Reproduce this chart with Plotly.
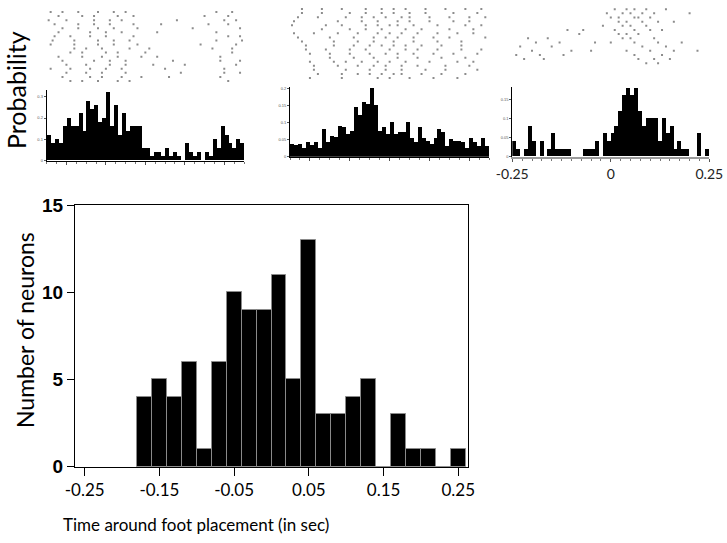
import plotly.graph_objects as go

W, H = 727, 543

# ---------------- data ----------------
main_bin_centers = [-0.17, -0.15, -0.13, -0.11, -0.09, -0.07, -0.05, -0.03, -0.01, 0.01, 0.03,
                    0.05, 0.07, 0.09, 0.11, 0.13, 0.15, 0.17, 0.19, 0.21, 0.23, 0.25]
main_counts = [4, 5, 4, 6, 1, 6, 10, 9, 9, 11, 5, 13, 3, 3, 4, 5, 0, 3, 1, 1, 0, 1]
main_xticks = [-0.25, -0.15, -0.05, 0.05, 0.15, 0.25]
main_xticklabels = ["-0.25", "-0.15", "-0.05", "0.05", "0.15", "0.25"]
main_yticks = [0, 5, 10, 15]
foot_placement_time = [0.0]

small_bin_edges_start = -0.25
small_bin_width = 0.01
small_bin_centers = [round(small_bin_edges_start + small_bin_width * (i + 0.5), 3) for i in range(50)]

prob_neuron1 = [0.12, 0.08, 0.10, 0.08, 0.16, 0.20, 0.16, 0.16, 0.22, 0.14,
                0.28, 0.24, 0.26, 0.18, 0.20, 0.32, 0.16, 0.26, 0.12, 0.22,
                0.14, 0.16, 0.16, 0.16, 0.06, 0.06, 0.02, 0.04, 0.04, 0.02,
                0.06, 0.02, 0.04, 0.02, 0.00, 0.08, 0.04, 0.02, 0.04, 0.00,
                0.04, 0.02, 0.10, 0.06, 0.16, 0.12, 0.08, 0.06, 0.10, 0.08]
prob_neuron2 = [0.036, 0.033, 0.036, 0.026, 0.042, 0.033, 0.042, 0.026, 0.081, 0.042,
                0.062, 0.057, 0.091, 0.087, 0.067, 0.076, 0.145, 0.122, 0.161, 0.155,
                0.201, 0.151, 0.076, 0.087, 0.067, 0.101, 0.067, 0.072, 0.072, 0.101,
                0.056, 0.042, 0.086, 0.056, 0.046, 0.036, 0.056, 0.081, 0.072, 0.032,
                0.052, 0.046, 0.046, 0.042, 0.026, 0.056, 0.042, 0.032, 0.056, 0.032]
prob_neuron3 = [0.04, 0.02, 0.00, 0.02, 0.08, 0.04, 0.00, 0.04, 0.00, 0.02,
                0.06, 0.02, 0.02, 0.02, 0.02, 0.00, 0.00, 0.00, 0.02, 0.02,
                0.02, 0.04, 0.00, 0.06, 0.04, 0.06, 0.08, 0.12, 0.16, 0.18,
                0.16, 0.18, 0.12, 0.08, 0.10, 0.10, 0.10, 0.04, 0.10, 0.06,
                0.08, 0.02, 0.04, 0.02, 0.02, 0.00, 0.00, 0.06, 0.00, 0.02]

prob_yticks1 = [0, 0.1, 0.2, 0.3]
prob_yticks2 = [0, 0.05, 0.1, 0.15, 0.2]
prob_yticks3 = [0, 0.05, 0.1, 0.15]
panel3_xticks = [-0.25, 0, 0.25]
panel3_xticklabels = ["-0.25", "0", "0.25"]

# spike rasters: one list of spike times per trial (row)
raster_neuron1 = [
    [-0.24, -0.21, -0.17, -0.12, -0.08, -0.05, 0.18, 0.22],
    [-0.22, -0.16, -0.13, -0.07, -0.03, 0.15, 0.21],
    [-0.245, -0.20, -0.13, -0.09, -0.06, 0.08, 0.20, 0.23],
    [-0.23, -0.17, -0.13, -0.09, -0.03, 0.04, 0.16, 0.21],
    [-0.21, -0.17, -0.12, -0.08, -0.02, 0.12, 0.24],
    [-0.22, -0.14, -0.10, -0.06, 0.03, 0.18],
    [-0.23, -0.19, -0.14, -0.10, -0.03, 0.21, 0.24],
    [-0.235, -0.18, -0.12, -0.08, -0.04, 0.18, 0.245],
    [-0.24, -0.18, -0.12, -0.08, -0.02, 0.14, 0.23],
    [-0.18, -0.15, -0.11, -0.04, 0.01, 0.17, 0.22],
    [-0.19, -0.16, -0.10, -0.07, 0.00, 0.22],
    [-0.22, -0.16, -0.11, -0.07, -0.01, 0.03, 0.19],
    [-0.21, -0.13, -0.09, -0.05, 0.07, 0.19, 0.24],
    [-0.20, -0.15, -0.09, -0.05, 0.02, 0.10, 0.23],
    [-0.24, -0.19, -0.14, -0.10, -0.06, 0.05, 0.20],
    [-0.20, -0.15, -0.11, -0.05, 0.09, 0.20, 0.24],
    [-0.21, -0.14, -0.11, -0.06, -0.01, 0.06, 0.19],
    [-0.19, -0.16, -0.12, -0.07, -0.04, 0.21],
]
raster_neuron2 = [
    [-0.22, -0.17, -0.12, -0.06, -0.02, 0.01, 0.04, 0.09, 0.14, 0.19, 0.23],
    [-0.22, -0.17, -0.10, -0.06, -0.02, 0.01, 0.05, 0.09, 0.16, 0.22],
    [-0.23, -0.18, -0.11, -0.07, -0.04, -0.01, 0.03, 0.05, 0.10, 0.15, 0.20, 0.24],
    [-0.24, -0.13, -0.07, -0.03, 0.02, 0.05, 0.10, 0.16, 0.20],
    [-0.245, -0.16, -0.12, -0.06, -0.03, 0.00, 0.02, 0.06, 0.12, 0.19, 0.23],
    [-0.17, -0.10, -0.06, -0.02, 0.04, 0.08, 0.15, 0.21],
    [-0.24, -0.19, -0.13, -0.08, -0.03, 0.00, 0.03, 0.07, 0.12, 0.17, 0.21],
    [-0.23, -0.15, -0.09, -0.04, -0.01, 0.02, 0.06, 0.11, 0.15, 0.24],
    [-0.22, -0.14, -0.08, -0.04, 0.01, 0.06, 0.12, 0.18],
    [-0.21, -0.14, -0.09, -0.05, -0.02, 0.01, 0.04, 0.08, 0.13, 0.18],
    [-0.21, -0.16, -0.10, -0.06, 0.00, 0.04, 0.07, 0.12, 0.18, 0.23],
    [-0.20, -0.15, -0.10, -0.05, -0.01, 0.02, 0.06, 0.11, 0.16, 0.22],
    [-0.15, -0.09, -0.04, 0.02, 0.07, 0.13, 0.19],
    [-0.20, -0.14, -0.11, -0.07, -0.03, 0.00, 0.04, 0.10, 0.17, 0.21],
    [-0.19, -0.13, -0.08, -0.04, -0.01, 0.03, 0.07, 0.14, 0.20],
    [-0.19, -0.11, -0.05, -0.01, 0.03, 0.09, 0.14, 0.22],
    [-0.18, -0.12, -0.08, -0.05, -0.02, 0.01, 0.03, 0.08, 0.13, 0.19],
    [-0.20, -0.12, -0.03, 0.00, 0.05, 0.11, 0.17],
]
raster_neuron3 = [
    [0.01, 0.04, 0.06, 0.09, 0.14],
    [-0.01, 0.03, 0.05, 0.08, 0.11, 0.20],
    [0.00, 0.02, 0.06, 0.07, 0.10],
    [0.02, 0.04, 0.08, 0.12, 0.16],
    [-0.02, 0.03, 0.05, 0.09],
    [-0.11, -0.07, 0.01, 0.06, 0.10, 0.13],
    [-0.08, 0.02, 0.04, 0.07],
    [-0.21, -0.16, 0.03, 0.05, 0.11],
    [-0.19, -0.13, -0.04, 0.00, 0.06, 0.12, 0.18],
    [-0.23, -0.15, 0.08, 0.14],
    [-0.20, -0.10, -0.05, 0.04, 0.10, 0.16, 0.22],
    [-0.24, -0.18, -0.12, 0.06, 0.13],
    [-0.22, -0.17, 0.07, 0.11, 0.15],
    [0.09, 0.12],
]

# ---------------- helpers ----------------
def dx(px):
    return px / W

def dy(py):
    return 1 - py / H

def raster_xy(rows):
    xs, ys = [], []
    for r, times in enumerate(rows):
        for t in times:
            xs.append(t)
            ys.append(r + 1)
    return xs, ys

fig = go.Figure()

# main histogram
fig.add_trace(go.Bar(x=main_bin_centers, y=main_counts, width=0.02,
                     marker=dict(color="black", line=dict(color="#8a8a8a", width=1)),
                     xaxis="x", yaxis="y"))
fig.add_trace(go.Scatter(x=foot_placement_time, y=[-0.5], mode="markers",
                         marker=dict(symbol="triangle-up", size=11, color="#e8625e"),
                         cliponaxis=False, xaxis="x", yaxis="y"))

# small histograms
for i, vals in enumerate([prob_neuron1, prob_neuron2, prob_neuron3]):
    ax = str(i + 2)
    fig.add_trace(go.Bar(x=small_bin_centers, y=vals, width=small_bin_width,
                         marker=dict(color="black", line=dict(width=0)),
                         xaxis="x" + ax, yaxis="y" + ax))

# rasters
for i, rows in enumerate([raster_neuron1, raster_neuron2, raster_neuron3]):
    ax = str(i + 5)
    xs, ys = raster_xy(rows)
    fig.add_trace(go.Scatter(x=xs, y=ys, mode="markers",
                             marker=dict(symbol="square", size=2, color="#8c8c8c", line=dict(width=0)),
                             xaxis="x" + ax, yaxis="y" + ax))

main_font = "Liberation Sans"
title_font = "Lato"

layout = dict(
    template="none",
    width=W, height=H, margin=dict(l=0, r=0, t=0, b=0, autoexpand=False),
    paper_bgcolor="white", plot_bgcolor="white", showlegend=False, bargap=0,
    xaxis=dict(domain=[dx(75), dx(468)], range=[-0.263, 0.263], showline=True, mirror=True,
               linecolor="black", linewidth=1, ticks="outside", ticklen=8, tickcolor="black",
               tickvals=main_xticks, ticktext=main_xticklabels, showgrid=False, zeroline=False,
               automargin=False,
               tickfont=dict(family=title_font, size=17, color="black"), anchor="y"),
    yaxis=dict(domain=[dy(466.7), dy(205)], range=[0, 15], showline=True, mirror=True,
               linecolor="black", linewidth=1, ticks="outside", ticklen=7, tickcolor="black",
               tickvals=main_yticks, showgrid=False, zeroline=False, automargin=False,
               tickfont=dict(family=main_font, size=19, color="black", weight="bold"), anchor="x"),
)

small_specs = [
    (46.7, 244.0, 160.7, 90.3, [0, 0.33], prob_yticks1),
    (290.0, 489.3, 156.7, 87.0, [0, 0.205], prob_yticks2),
    (512.3, 709.3, 156.7, 87.4, [0, 0.182], prob_yticks3),
]
for i, (x0, x1, yb, yt, yr, yt_vals) in enumerate(small_specs):
    n = str(i + 2)
    is3 = (i == 2)
    layout["xaxis" + n] = dict(
        domain=[dx(x0), dx(x1)], range=[-0.25, 0.25], anchor="y" + n, automargin=False,
        showline=True, linecolor="#9a9a9a" if is3 else "black", linewidth=2 if is3 else 1,
        ticks="outside", ticklen=3, tickcolor="#555", tickwidth=1,
        tickvals=panel3_xticks if is3 else [-0.2, -0.1, 0, 0.1, 0.2],
        ticktext=panel3_xticklabels if is3 else None,
        showticklabels=is3, showgrid=False, zeroline=False,
        minor=dict(ticks="outside", ticklen=2, dtick=0.025, tickcolor="#777"),
        tickfont=dict(family=title_font, size=14, color="#222"))
    layout["yaxis" + n] = dict(
        domain=[dy(yb), dy(yt)], range=yr, anchor="x" + n, automargin=False,
        showline=True, linecolor="black", linewidth=1, ticks="outside", ticklen=2,
        tickcolor="#555", tickvals=yt_vals, showgrid=False, zeroline=False,
        tickfont=dict(family=main_font, size=4, color="#555"))

raster_specs = [
    (46.7, 244.0, 85, 8, len(raster_neuron1)),
    (290.0, 489.3, 82, 5, len(raster_neuron2)),
    (512.3, 709.3, 84, 5, len(raster_neuron3) + 4),
]
for i, (x0, x1, yb, yt, nrows) in enumerate(raster_specs):
    n = str(i + 5)
    layout["xaxis" + n] = dict(domain=[dx(x0), dx(x1)], range=[-0.25, 0.25], anchor="y" + n,
                               visible=False, automargin=False)
    layout["yaxis" + n] = dict(domain=[dy(yb), dy(yt)], range=[nrows + 1, 0], anchor="x" + n,
                               visible=False, automargin=False)

fig.update_layout(**layout)

fig.add_annotation(text="Number of neurons", xref="paper", yref="paper",
                   x=dx(25), y=dy(330), xanchor="center", yanchor="middle",
                   textangle=-90, showarrow=False,
                   font=dict(family=title_font, size=23, color="black"))
fig.add_annotation(text="Time around foot placement (in sec)", xref="paper", yref="paper",
                   x=dx(196), y=dy(524), xanchor="center", yanchor="middle", showarrow=False,
                   font=dict(family=title_font, size=17, color="black"))
fig.add_annotation(text="Probability", xref="paper", yref="paper",
                   x=dx(16), y=dy(90), xanchor="center", yanchor="middle",
                   textangle=-90, showarrow=False,
                   font=dict(family=title_font, size=25, color="black"))

fig.write_html("out.html", config={"displayModeBar": False},
               post_script="document.body.style.margin='0';document.body.style.padding='0';")
